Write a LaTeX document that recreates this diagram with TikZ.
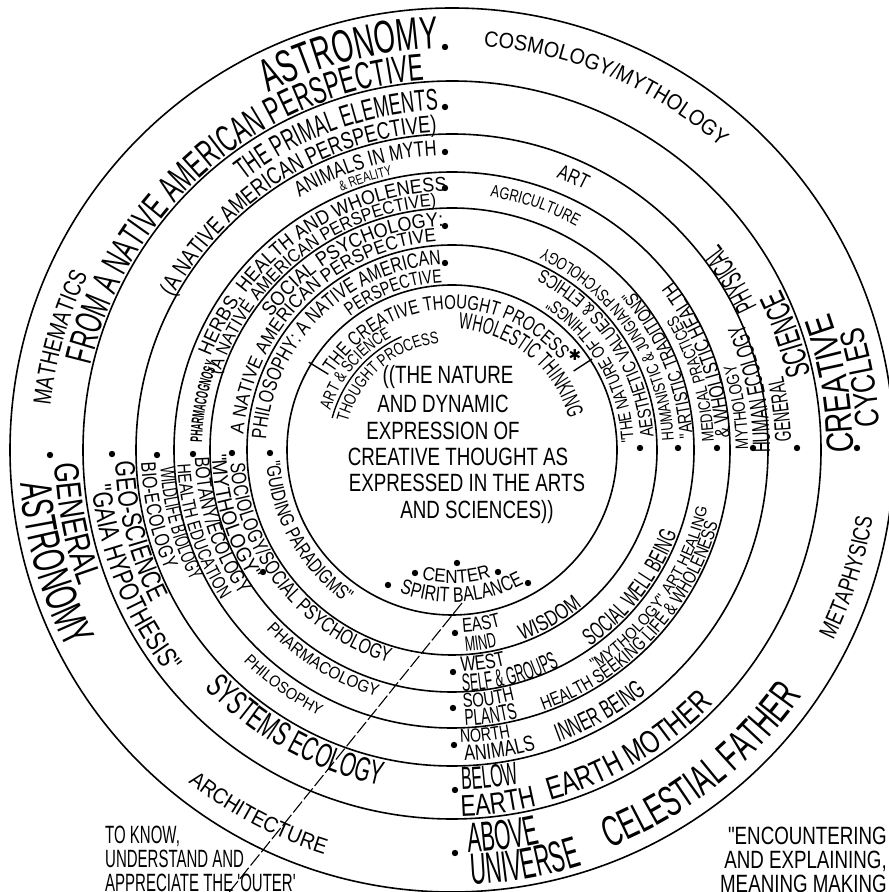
\documentclass[tikz,border=0pt]{standalone}
\usepackage{fontspec}
\setmainfont[FakeStretch=0.75]{Liberation Sans}
\newfontfamily\fN[FakeStretch=0.5]{Liberation Sans}
\newfontfamily\fA[FakeStretch=0.6]{Liberation Sans}
\newfontfamily\fB[FakeStretch=0.75]{Liberation Sans}
\newfontfamily\fC[FakeStretch=0.9]{Liberation Sans}
\newfontfamily\starfont{DejaVu Sans}
\usepackage{tikz}
\usetikzlibrary{decorations.text}
\tikzset{
  ring/.style={draw=black, line width=1.6pt},
  spot/.style={fill=black},
  guide/.style={draw=black, line width=1.1pt, dash pattern=on 14pt off 3pt},
  tickmark/.style={draw=black, line width=1.4pt},
  core/.style={inner sep=0pt, font=\fB\fontsize{25}{27}\selectfont}
}
% text on a ring: radius, mid angle, family, size, text
% tops outward (read clockwise)
\newcommand{\outarc}[5]{{#3\fontsize{#4}{#4}\selectfont
  \path[decorate, decoration={text along path, text align=center, text={#5}}]
    ([shift={(#2+80:#1)}]ctr) arc[start angle=#2+80, end angle=#2-80, radius=#1];}}
% tops inward (read anticlockwise)
\newcommand{\inarc}[5]{{#3\fontsize{#4}{#4}\selectfont
  \path[decorate, decoration={text along path, text align=center, text={#5}}]
    ([shift={(#2-80:#1)}]ctr) arc[start angle=#2-80, end angle=#2+80, radius=#1];}}

\begin{document}
\catcode`\&=12
\begin{tikzpicture}[x=1pt, y=1pt]
  \useasboundingbox (0,0) rectangle (889,892);
  \clip (0,0) rectangle (889,892);
  \coordinate (ctr) at (452,442);

  % Rings
  \foreach \r in {442,369,316,278,242,205,165} {
    \draw[ring] (ctr) circle[radius=\r];
  }

  % Dots at the four quarters of every band
  \foreach \p in {(445,845),(445,785),(445,740),(445,704),(445,666),(445,629),
                  (857,444),(797,444),(753,444),(717,444),(678,444),(640,444),
                  (50,437),(112,438),(157,437),(193,438),(232,439),(270,439),
                  (455,39),(455,102),(454,147),(453,184),(453,220),(455,259),
                  (457,329),(415,319),(498,320),(388,307),(528,309),(263,320)} {
    \fill[spot] \p circle[radius=3.2];
  }

  % Band 1
  \outarc{402}{104.5}{\fA}{46}{ASTRONOMY}
  \outarc{371}{130.5}{\fA}{38}{FROM A NATIVE AMERICAN PERSPECTIVE}
  \outarc{404}{164}{\fB}{25}{MATHEMATICS}
  \outarc{405}{67}{\fC}{22}{COSMOLOGY/MYTHOLOGY}
  \inarc{401}{9.8}{\fB}{38}{CREATIVE}
  \inarc{428}{10}{\fB}{34}{CYCLES}
  \inarc{426}{-17.8}{\fB}{24}{METAPHYSICS}
  \inarc{428}{-51.7}{\fA}{43}{CELESTIAL FATHER}
  \inarc{403}{-82.5}{\fN}{42}{ABOVE}
  \inarc{435}{-80}{\fN}{44}{UNIVERSE}
  \inarc{424}{242}{\fC}{22}{ARCHITECTURE}
  \inarc{397}{191}{\fB}{35}{GENERAL}
  \inarc{433}{196}{\fA}{45}{ASTRONOMY}

  % Band 2
  \outarc{340}{110}{\fA}{30}{THE PRIMAL ELEMENTS}
  \outarc{318}{122}{\fB}{24}{(A NATIVE AMERICAN PERSPECTIVE)}
  \inarc{339}{7}{\fA}{23}{GENERAL}
  \inarc{337}{31.5}{\fN}{30}{PHYSICAL}
  \inarc{366}{19}{\fA}{34}{SCIENCE}
  \inarc{364}{-59.2}{\fB}{32}{EARTH MOTHER}
  \inarc{340}{-83.5}{\fN}{32}{BELOW}
  \inarc{366}{-82.6}{\fB}{30}{EARTH}
  \inarc{343}{241}{\fA}{34}{SYSTEMS ECOLOGY}
  \inarc{337}{194.5}{\fB}{28}{GEO-SCIENCE}
  \inarc{362}{202}{\fB}{28}{"GAIA HYPOTHESIS"}

  % Band 3
  \outarc{295}{107}{\fB}{22}{ANIMALS IN MYTH}
  \outarc{281}{107.7}{\fB}{14}{& REALITY}
  \outarc{292}{66}{\fB}{21}{ART}
  \inarc{318}{11.5}{\fA}{25}{HUMAN ECOLOGY}
  \inarc{296}{8.5}{\fB}{18}{MYTHOLOGY}
  \inarc{311}{-60.6}{\fA}{26}{INNER BEING}
  \inarc{293}{-83.4}{\fB}{19}{NORTH}
  \inarc{311}{-81}{\fB}{22}{ANIMALS}
  \inarc{297}{234.4}{\fC}{16}{PHILOSOPHY}
  \inarc{292}{195}{\fA}{21}{WILDLIFE BIOLOGY}
  \inarc{311}{192.5}{\fB}{21}{BIO-ECOLOGY}

  % Band 4
  \outarc{259}{125}{\fC}{20}{HERBS, HEALTH AND WHOLENESS}
  \outarc{244}{128}{\fC}{18}{(A NATIVE AMERICAN PERSPECTIVE)}
  \outarc{250}{169}{\fN\bfseries}{17}{PHARMACOGNOSY}
  \outarc{256}{71.2}{\fB}{17}{AGRICULTURE}
  \inarc{262}{16.5}{\fB}{17}{MEDICAL PRACTICES}
  \inarc{278}{20}{\fB}{21}{& WHOLISTIC HEALTH}
  \inarc{262}{-34.9}{\fC}{16}{"MYTHOLOGY" ART HEALING}
  \inarc{276}{-43}{\fB}{19}{HEALTH SEEKING LIFE & WHOLENESS}
  \inarc{258}{-81.7}{\fB}{20}{SOUTH}
  \inarc{276}{-81.7}{\fA}{23}{PLANTS}
  \inarc{258}{238.5}{\fC}{17}{PHARMACOLOGY}
  \inarc{257}{198}{\fB}{21}{BOTANY/ECOLOGY}
  \inarc{275}{198}{\fB}{19}{HEALTH EDUCATION}

  % Band 5
  \outarc{224}{118}{\fC}{20}{SOCIAL PSYCHOLOGY:}
  \outarc{209}{135}{\fC}{19}{A NATIVE AMERICAN PERSPECTIVE}
  \inarc{240}{-37.6}{\fA}{24}{SOCIAL WELL BEING}
  \inarc{222}{-81.8}{\fB}{21}{WEST}
  \inarc{242}{-75.6}{\fN}{25}{SELF & GROUPS}
  \inarc{222}{218.5}{\fB}{21}{SOCIOLOGY/SOCIAL PSYCHOLOGY}
  \inarc{240}{197}{\fC}{21}{"MYTHOLOGY"}
  \inarc{222}{34}{\fB}{17}{HUMANISTIC & JUNGIAN PSYCHOLOGY}
  \inarc{241}{22.5}{\fB}{19}{"ARTISTIC TRADITIONS"}

  % Band 6
  \outarc{186}{135}{\fB}{21}{PHILOSOPHY: A NATIVE AMERICAN}
  \outarc{168}{110.3}{\fB}{19}{PERSPECTIVE}
  \inarc{186}{209.5}{\fB}{20}{"GUIDING PARADIGMS"}
  \inarc{183}{-80.5}{\fB}{20}{EAST}
  \inarc{202}{-81.6}{\fA}{21}{MIND}
  \inarc{203}{-60}{\fB}{22}{WISDOM}
  \inarc{182}{29.5}{\fB}{18}{"THE NATURE OF THINGS"}
  \inarc{202}{33.5}{\fB}{19}{AESTHETIC VALUES & ETHICS}

  % Inner disc
  \outarc{141}{93.5}{\fB}{20}{THE CREATIVE THOUGHT PROCESS}
  \outarc{128}{140}{\fB}{17}{ART & SCIENCE}
  \outarc{108}{131}{\fB}{17}{THOUGHT PROCESS}
  \outarc{121}{51}{\fA}{23}{WHOLESTIC THINKING}
  \inarc{133}{-88}{\fC}{19}{CENTER}
  \inarc{152}{-86}{\fB}{21}{SPIRIT BALANCE}
  \draw[tickmark] ([shift={(148.5:145)}]ctr) -- ([shift={(148.5:168)}]ctr);
  \draw[tickmark] ([shift={(33:145)}]ctr) -- ([shift={(33:167)}]ctr);
  \draw[tickmark] ([shift={(165:124)}]ctr) arc[start angle=165, end angle=114, radius=124];
  \node[font=\starfont\fontsize{15}{15}\selectfont] (star) at (575,537) {✱};
  \foreach \txt/\x/\y [count=\i] in {{((THE NATURE}/448/515, {AND DYNAMIC}/443/488,
      {EXPRESSION OF}/443/461, {CREATIVE THOUGHT AS}/458/435,
      {EXPRESSED IN THE ARTS}/467/409, {AND SCIENCES))}/477/380} {
    \node[core] (line\i) at (\x,\y) {\txt};
  }

  % Guide line from the centre out of the rings
  \coordinate (spirit) at (462,289);
  \coordinate (outside) at (226,-4);
  \draw[guide] (spirit) -- (outside);

  % Corner notes
  \node[anchor=north west, align=left, inner sep=0pt,
        font=\fA\fontsize{25}{24}\selectfont] (know) at (105,66)
    {TO KNOW,\\UNDERSTAND AND\\APPRECIATE THE 'OUTER'};
  \node[anchor=north east, align=right, inner sep=0pt,
        font=\fB\fontsize{25}{24}\selectfont] (meaning) at (887,65)
    {"ENCOUNTERING\\AND EXPLAINING,\\MEANING MAKING};
\end{tikzpicture}
\end{document}
